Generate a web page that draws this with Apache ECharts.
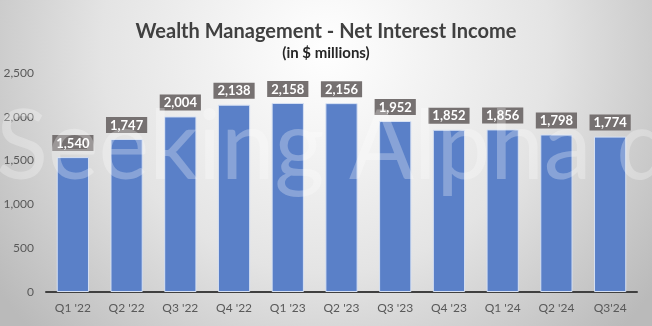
<!DOCTYPE html>
<html>
<head>
<meta charset="utf-8">
<script src="https://cdn.jsdelivr.net/npm/echarts@6/dist/echarts.min.js"></script>
<style>html,body{margin:0;padding:0;}#c{width:652px;height:326px;}</style>
</head>
<body>
<div id="c"></div>
<script>
const categories = ["Q1 '22","Q2 '22","Q3 '22","Q4 '22","Q1 '23","Q2 '23","Q3 '23","Q4 '23","Q1 '24","Q2 '24","Q3'24"];
const values = [1540,1747,2004,2138,2158,2156,1952,1852,1856,1798,1774];
const titleText = "Wealth Management - Net Interest Income";
const subtitleText = "(in $ millions)";
const watermarkText = "Seeking Alpha \u03b1";

const chart = echarts.init(document.getElementById('c'), null, {renderer:'canvas'});
const font = "Lato, 'Open Sans', sans-serif";
chart.setOption({
  animation:false,
  backgroundColor:{type:'radial', x:0.5, y:0.15, r:1.25, colorStops:[
    {offset:0, color:'#ffffff'},{offset:0.55, color:'#e4e4e4'},{offset:1, color:'#bababa'}]},
  title:[
    {text:titleText, left:'center', top:17, textStyle:{fontFamily:font, fontSize:20, fontWeight:'bold', color:'#404040'}},
    {text:subtitleText, left:'center', top:41, textStyle:{fontFamily:font, fontSize:15, fontWeight:'bold', color:'#262626'}}
  ],
  grid:{left:46, right:15, top:73, bottom:34},
  xAxis:{type:'category', data:categories,
    axisLine:{lineStyle:{color:'#404040', width:2}},
    axisTick:{show:false},
    axisLabel:{color:'#595959', fontSize:12, fontFamily:font, margin:10}},
  yAxis:{type:'value', min:0, max:2500, interval:500,
    splitLine:{show:false}, axisLine:{show:false}, axisTick:{show:false},
    axisLabel:{color:'#595959', fontSize:12, fontFamily:font, margin:12,
      formatter:v=>v.toLocaleString('en-US')}},
  series:[{type:'bar', data:values, barCategoryGap:'40%',
    itemStyle:{color:'#5a80c8', borderColor:'#d6e0f3', borderWidth:1},
    label:{show:true, position:'top', distance:6,
      formatter:p=>p.value.toLocaleString('en-US'),
      color:'#ffffff', fontWeight:'bold', fontSize:13, fontFamily:font,
      backgroundColor:'#767171', padding:[2,4,1,4]}}],
  graphic:[{type:'text', left:-4, top:100, z:100, silent:true,
    style:{text:watermarkText, font:"normal 96px Lato, sans-serif", fill:'rgba(255,255,255,0.28)'}}]
});
</script>
</body>
</html>
